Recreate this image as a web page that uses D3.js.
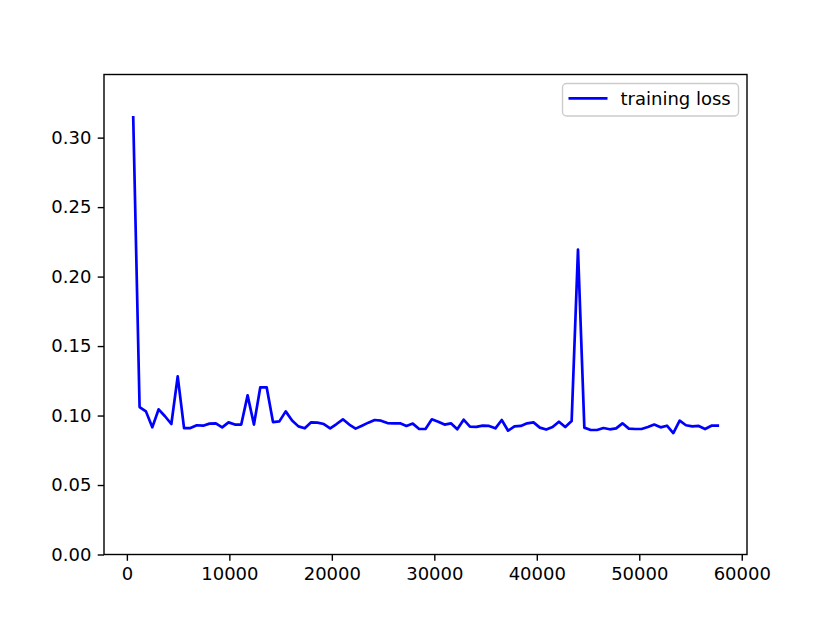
<!DOCTYPE html>
<html>
<head>
<meta charset="utf-8">
<script src="https://cdn.jsdelivr.net/npm/d3@7"></script>
<style>
  body { margin: 0; background: #fff; }
  svg { display: block; font-family: "DejaVu Sans", sans-serif; }
</style>
</head>
<body>
<svg id="chart"></svg>
<script>
// loss logged every 620 steps
const stepSize = 620;
const lossValues = [
  0.3146, 0.1061, 0.1030, 0.0915, 0.1045, 0.0995, 0.0939, 0.1282, 0.0910, 0.0910,
  0.0930, 0.0927, 0.0942, 0.0944, 0.0915, 0.0951, 0.0935, 0.0935, 0.1145, 0.0935,
  0.1203, 0.1203, 0.0953, 0.0958, 0.1030, 0.0965, 0.0922, 0.0908, 0.0951, 0.0949,
  0.0939, 0.0908, 0.0939, 0.0973, 0.0935, 0.0906, 0.0927, 0.0949, 0.0968, 0.0963,
  0.0946, 0.0944, 0.0944, 0.0925, 0.0942, 0.0903, 0.0903, 0.0973, 0.0956, 0.0935,
  0.0944, 0.0901, 0.0970, 0.0920, 0.0918, 0.0927, 0.0925, 0.0908, 0.0968, 0.0891,
  0.0922, 0.0925, 0.0944, 0.0951, 0.0913, 0.0899, 0.0917, 0.0956, 0.0917, 0.0960,
  0.2195, 0.0913, 0.0896, 0.0896, 0.0910, 0.0901, 0.0908, 0.0944, 0.0906, 0.0903,
  0.0903, 0.0917, 0.0935, 0.0915, 0.0927, 0.0874, 0.0963, 0.0930, 0.0922, 0.0925,
  0.0903, 0.0927, 0.0927
];
const xTicks = [0, 10000, 20000, 30000, 40000, 50000, 60000];
const yTicks = [0.00, 0.05, 0.10, 0.15, 0.20, 0.25, 0.30];
const seriesLabel = "training loss";

const data = lossValues.map((v, i) => ({ step: (i + 1) * stepSize, loss: v }));

const width = 830;
const height = 623;
const marginLeft = 104;
const marginRight = 83;
const marginTop = 74.5;
const marginBottom = 68.5;

const fontSize = "18px";
const tickLen = 6.3;

// matplotlib style 5% margins on x, y starts at 0
const xExt = d3.extent(data, d => d.step);
const xPad = (xExt[1] - xExt[0]) * 0.05;
const x = d3.scaleLinear([xExt[0] - xPad, xExt[1] + xPad], [marginLeft, width - marginRight]);
const yMax = d3.max(data, d => d.loss) * 1.098;
const y = d3.scaleLinear([0, yMax], [height - marginBottom, marginTop]);

const svg = d3.select("#chart")
  .attr("width", width)
  .attr("height", height)
  .attr("viewBox", [0, 0, width, height]);

// x axis
svg.append("g")
  .attr("transform", `translate(0,${height - marginBottom})`)
  .call(d3.axisBottom(x).tickValues(xTicks).tickFormat(d3.format("d")).tickSize(tickLen).tickPadding(6).tickSizeOuter(0))
  .call(g => g.select(".domain").remove())
  .call(g => g.selectAll(".tick line").attr("stroke", "#000").attr("stroke-width", 1.4))
  .call(g => g.selectAll(".tick text").attr("fill", "#000").style("font-size", fontSize)
    .attr("font-family", "DejaVu Sans"));

// y axis
svg.append("g")
  .attr("transform", `translate(${marginLeft},0)`)
  .call(d3.axisLeft(y).tickValues(yTicks).tickFormat(d3.format(".2f")).tickSize(tickLen).tickPadding(6.3).tickSizeOuter(0))
  .call(g => g.select(".domain").remove())
  .call(g => g.selectAll(".tick line").attr("stroke", "#000").attr("stroke-width", 1.4))
  .call(g => g.selectAll(".tick text").attr("fill", "#000").style("font-size", fontSize)
    .attr("font-family", "DejaVu Sans"));

// line
const line = d3.line()
  .x(d => x(d.step))
  .y(d => y(d.loss));

svg.append("path")
  .attr("fill", "none")
  .attr("stroke", "#0000ff")
  .attr("stroke-width", 2.7)
  .attr("stroke-linejoin", "round")
  .attr("stroke-linecap", "square")
  .attr("d", line(data));

// axes frame
svg.append("rect")
  .attr("x", marginLeft)
  .attr("y", marginTop)
  .attr("width", width - marginLeft - marginRight)
  .attr("height", height - marginTop - marginBottom)
  .attr("fill", "none")
  .attr("stroke", "#000")
  .attr("stroke-width", 1.4);

// legend
const legend = svg.append("g").attr("transform", `translate(${width - marginRight - 8.5},${marginTop + 9})`);
legend.append("rect")
  .attr("x", -176)
  .attr("y", 0)
  .attr("width", 176)
  .attr("height", 32.5)
  .attr("rx", 4)
  .attr("fill", "#fff")
  .attr("fill-opacity", 0.8)
  .attr("stroke", "#cccccc")
  .attr("stroke-width", 1.4);
legend.append("line")
  .attr("x1", -170).attr("x2", -131)
  .attr("y1", 14.8).attr("y2", 14.8)
  .attr("stroke", "#0000ff")
  .attr("stroke-width", 2.7);
legend.append("text")
  .attr("x", -118)
  .attr("y", 15.5)
  .attr("dy", "0.35em")
  .attr("fill", "#000")
  .style("font-size", fontSize)
  .text(seriesLabel);
</script>
</body>
</html>
